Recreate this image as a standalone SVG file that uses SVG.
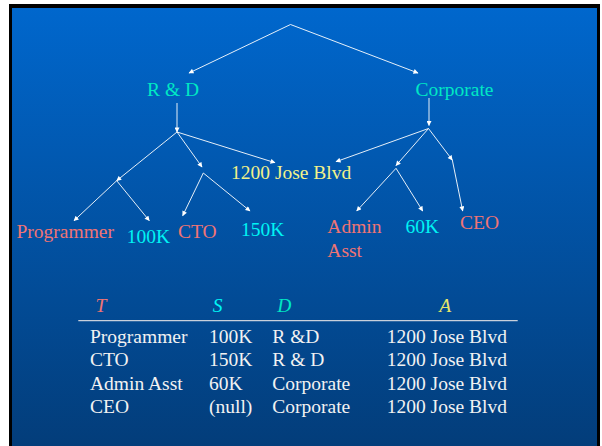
<svg xmlns="http://www.w3.org/2000/svg" width="602" height="446" viewBox="0 0 602 446">
<defs>
<linearGradient id="bg" x1="0" y1="0" x2="0" y2="1">
<stop offset="0" stop-color="#0067cd"/>
<stop offset="1" stop-color="#033d7a"/>
</linearGradient>
<marker id="ah" viewBox="0 0 10 10" refX="9" refY="5" markerWidth="6" markerHeight="5" markerUnits="userSpaceOnUse" orient="auto">
<path d="M0,0 L10,5 L0,10 z" fill="#ffffff"/>
</marker>
</defs>
<style>
text{font-family:"Liberation Serif","Times New Roman",serif;font-size:19.5px}
.dept{fill:#00e8c4}
.sal{fill:#00f4f4}
.title{fill:#f07474}
.addr{fill:#f2f28a}
.cell{fill:#f2f2f2}
.hdr{font-style:italic}
.c{stroke:#ffffff;stroke-width:1;fill:none;stroke-opacity:0.9}
.a{marker-end:url(#ah)}
</style>
<rect x="0" y="0" width="602" height="446" fill="#ffffff"/>
<rect x="9" y="4" width="591" height="442" fill="#000000"/>
<rect x="12" y="8" width="585" height="438" fill="url(#bg)"/>
<g id="connectors">
<line class="c a" x1="290.5" y1="24.5" x2="189" y2="73"/>
<line class="c a" x1="290.5" y1="24.5" x2="418" y2="73"/>
<line class="c a" x1="177" y1="103" x2="177" y2="132"/>
<line class="c a" x1="429" y1="98" x2="429" y2="125.5"/>
<line class="c a" x1="177" y1="132" x2="116.7" y2="180.7"/>
<line class="c a" x1="177" y1="132" x2="202" y2="167"/>
<line class="c a" x1="177" y1="132" x2="275" y2="162.7"/>
<line class="c a" x1="116.7" y1="180.7" x2="74" y2="220.7"/>
<line class="c a" x1="116.7" y1="180.7" x2="149.3" y2="220.7"/>
<line class="c a" x1="203.3" y1="173" x2="182.7" y2="215.7"/>
<line class="c a" x1="203.3" y1="173" x2="250" y2="211"/>
<line class="c a" x1="428.5" y1="128.5" x2="336" y2="161.7"/>
<line class="c a" x1="428.5" y1="128.5" x2="396" y2="165.5"/>
<line class="c a" x1="428.5" y1="128.5" x2="452.3" y2="160"/>
<line class="c a" x1="452.3" y1="160" x2="462.7" y2="211"/>
<line class="c a" x1="396" y1="168.3" x2="356.7" y2="211"/>
<line class="c a" x1="396" y1="168.3" x2="422.7" y2="211"/>
</g>
<g id="rd"><text class="dept" x="147" y="96">R &amp; D</text></g>
<g id="corporate"><text class="dept" x="415.5" y="96">Corporate</text></g>
<g id="address"><text class="addr" x="231" y="179">1200 Jose Blvd</text></g>
<g id="programmer"><text class="title" x="16.5" y="238.3">Programmer</text></g>
<g id="s100k"><text class="sal" x="126.7" y="243.3">100K</text></g>
<g id="cto"><text class="title" x="178" y="238.3">CTO</text></g>
<g id="s150k"><text class="sal" x="241" y="236.3">150K</text></g>
<g id="admin"><text class="title" x="327.3" y="233.3">Admin</text><text class="title" x="327.3" y="256.7">Asst</text></g>
<g id="s60k"><text class="sal" x="405.5" y="233.3">60K</text></g>
<g id="ceo"><text class="title" x="460" y="228.5">CEO</text></g>
<g id="table">
<text class="title hdr" x="95.5" y="312.3">T</text>
<text class="sal hdr" x="212.8" y="312.3">S</text>
<text class="dept hdr" x="277.3" y="312.3">D</text>
<text class="addr hdr" x="439.3" y="312.3" style="fill:#e6e66a">A</text>
<line x1="78.3" y1="320.7" x2="517.7" y2="320.7" stroke="#c8d0dc" stroke-width="1.2"/>
<text class="cell" x="90" y="342.7">Programmer</text>
<text class="cell" x="209" y="342.7">100K</text>
<text class="cell" x="272.3" y="342.7">R &amp;D</text>
<text class="cell" x="386.7" y="342.7">1200 Jose Blvd</text>
<text class="cell" x="90" y="366">CTO</text>
<text class="cell" x="209" y="366">150K</text>
<text class="cell" x="272.3" y="366">R &amp; D</text>
<text class="cell" x="386.7" y="366">1200 Jose Blvd</text>
<text class="cell" x="90" y="389.5">Admin Asst</text>
<text class="cell" x="209" y="389.5">60K</text>
<text class="cell" x="272.3" y="389.5">Corporate</text>
<text class="cell" x="386.7" y="389.5">1200 Jose Blvd</text>
<text class="cell" x="90" y="413.3">CEO</text>
<text class="cell" x="209" y="413.3">(null)</text>
<text class="cell" x="272.3" y="413.3">Corporate</text>
<text class="cell" x="386.7" y="413.3">1200 Jose Blvd</text>
</g>
</svg>
